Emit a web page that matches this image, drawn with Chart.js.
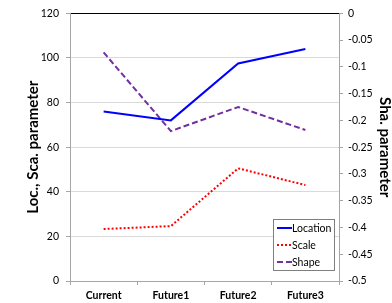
<!DOCTYPE html>
<html>
<head>
<meta charset="utf-8">
<script src="https://cdn.jsdelivr.net/npm/chart.js@4"></script>
<style>
  html, body { margin: 0; padding: 0; background: #fff; }
  #wrap { width: 392px; height: 303px; }
</style>
</head>
<body>
<div id="wrap"><canvas id="chart" width="392" height="303"></canvas></div>
<script>
// data
const categories = ['Current', 'Future1', 'Future2', 'Future3'];
const locationValues = [76, 72, 97.5, 104];
const scaleValues = [23.3, 24.6, 50.5, 43];
const shapeValues = [-0.073, -0.22, -0.175, -0.218];

const fontName = 'Lato, "Open Sans", sans-serif';
const axisGray = '#a6a6a6';

// legend drawn inside the plot, bottom right
const boxLegend = {
  id: 'boxLegend',
  afterDatasetsDraw(chart) {
    const c = chart.ctx;
    const area = chart.chartArea;
    const w = 61, h = 51;
    const x = area.right - 5 - w;
    const y = area.bottom - 11 - h;
    c.save();
    c.fillStyle = '#fff';
    c.fillRect(x, y, w, h);
    c.strokeStyle = '#7f7f7f';
    c.lineWidth = 1;
    c.strokeRect(x + 0.5, y + 0.5, w, h);
    c.font = '10.5px ' + fontName;
    c.textBaseline = 'middle';
    chart.data.datasets.forEach((ds, i) => {
      const ly = y + 9 + i * 17;
      c.beginPath();
      c.strokeStyle = ds.borderColor;
      c.lineWidth = ds.borderWidth;
      c.setLineDash(ds.borderDash || []);
      c.moveTo(x + 4, ly);
      c.lineTo(x + 19, ly);
      c.stroke();
      c.setLineDash([]);
      c.fillStyle = '#000';
      c.fillText(ds.label, x + 19, ly + 1);
    });
    c.restore();
  }
};

const ctx = document.getElementById('chart').getContext('2d');
new Chart(ctx, {
  type: 'line',
  data: {
    labels: categories,
    datasets: [
      {
        label: 'Location',
        data: locationValues,
        yAxisID: 'y',
        borderColor: '#0000ff',
        borderWidth: 2,
        pointRadius: 0,
        tension: 0
      },
      {
        label: 'Scale',
        data: scaleValues,
        yAxisID: 'y',
        borderColor: '#ff0000',
        borderWidth: 2,
        borderDash: [2, 2],
        pointRadius: 0,
        tension: 0
      },
      {
        label: 'Shape',
        data: shapeValues,
        yAxisID: 'y2',
        borderColor: '#7030a0',
        borderWidth: 2,
        borderDash: [6, 3],
        pointRadius: 0,
        tension: 0
      }
    ]
  },
  options: {
    responsive: false,
    animation: false,
    devicePixelRatio: 1,
    layout: { padding: { top: 13, left: 0, right: 0, bottom: 0 } },
    plugins: {
      legend: { display: false },
      tooltip: { enabled: false }
    },
    scales: {
      x: {
        offset: true,
        afterFit(scale) { scale.height = 22; },
        grid: {
          offset: true,
          drawOnChartArea: false,
          tickLength: 4,
          color: axisGray
        },
        border: { color: axisGray },
        ticks: {
          color: '#000',
          padding: 4,
          maxRotation: 0,
          font: { family: fontName, size: 10.5, weight: 'bold' }
        }
      },
      y: {
        position: 'left',
        min: 0,
        max: 120,
        afterFit(scale) { scale.width = 70; },
        ticks: {
          stepSize: 20,
          color: '#000',
          padding: 7,
          font: { family: fontName, size: 10.5 }
        },
        grid: {
          tickLength: 4,
          tickColor: axisGray,
          color: c => c.tick.value === 120 ? '#000' : '#d9d9d9'
        },
        border: { color: axisGray },
        title: {
          display: true,
          text: 'Loc., Sca. parameter',
          color: '#000',
          padding: { top: 24, bottom: 0 },
          font: { family: fontName, size: 15, weight: 'bold' }
        }
      },
      y2: {
        position: 'right',
        min: -0.5,
        max: 0,
        afterFit(scale) { scale.width = 53; },
        ticks: {
          stepSize: 0.05,
          color: '#000',
          padding: 5,
          font: { family: fontName, size: 10.5 },
          callback: v => String(+Number(v).toFixed(2))
        },
        grid: {
          drawOnChartArea: false,
          tickLength: 4,
          color: axisGray
        },
        border: { color: axisGray },
        title: {
          display: true,
          text: 'Sha. parameter',
          color: '#000',
          padding: { top: -2, bottom: 0 },
          font: { family: fontName, size: 15, weight: 'bold' }
        }
      }
    }
  },
  plugins: [boxLegend]
});
</script>
</body>
</html>
